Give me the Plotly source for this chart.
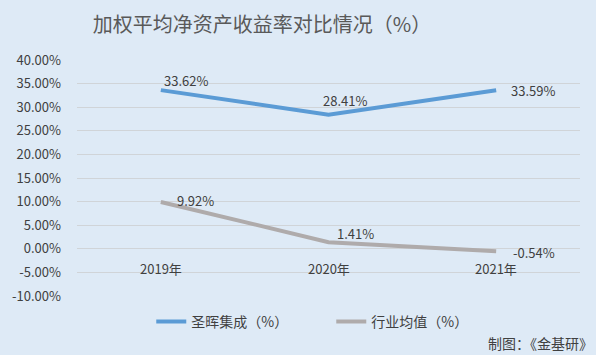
import plotly.graph_objects as go

years = ["2019年", "2020年", "2021年"]
company = [33.62, 28.41, 33.59]
industry = [9.92, 1.41, -0.54]
company_name = "圣晖集成（%）"
industry_name = "行业均值（%）"
tick_vals = [-10, -5, 0, 5, 10, 15, 20, 25, 30, 35, 40]
tick_text = [f"{v:.2f}%" for v in tick_vals]

FONT = "Noto Sans CJK SC"
BG = "#DEEAF6"
BLUE = "#5B9BD5"
GRAY = "#AFABAB"
TXT = "#404040"

fig = go.Figure()
fig.add_trace(go.Scatter(x=years, y=company, mode="lines", name=company_name,
                         line=dict(color=BLUE, width=4)))
fig.add_trace(go.Scatter(x=years, y=industry, mode="lines", name=industry_name,
                         line=dict(color=GRAY, width=4)))

anns = []
# data label offsets (px)
c_off = [(25, 10), (16, 14), (37, 0)]
i_off = [(35, 1), (27, 9), (38, -1)]
for i, y in enumerate(years):
    anns.append(dict(x=y, y=company[i], xref="x", yref="y", text=f"{company[i]:.2f}%",
                     showarrow=False, xshift=c_off[i][0], yshift=c_off[i][1],
                     font=dict(size=13, color=TXT, family=FONT)))
    anns.append(dict(x=y, y=industry[i], xref="x", yref="y", text=f"{industry[i]:.2f}%",
                     showarrow=False, xshift=i_off[i][0], yshift=i_off[i][1],
                     font=dict(size=13, color=TXT, family=FONT)))
    # category labels along the zero line
    anns.append(dict(x=y, y=0, xref="x", yref="y", text=y, showarrow=False,
                     yanchor="top", yshift=-8,
                     font=dict(size=13, color=TXT, family=FONT)))

anns.append(dict(x=1, y=0, xref="paper", yref="paper", text="制图：《金基研》",
                 showarrow=False, xanchor="right", yanchor="middle",
                 xshift=15, yshift=-47,
                 font=dict(size=14, color=TXT, family=FONT)))

fig.update_layout(
    width=596, height=355,
    paper_bgcolor=BG, plot_bgcolor=BG,
    margin=dict(l=72, r=16, t=60, b=59),
    title=dict(text="加权平均净资产收益率对比情况（%）", x=262 / 596, xanchor="center",
               y=1 - 25 / 355, yanchor="middle",
               font=dict(size=20, color="#595959", family=FONT)),
    font=dict(family=FONT, color=TXT, size=13),
    xaxis=dict(range=[-0.5, 2.5], showticklabels=False, showgrid=False,
               zeroline=False, showline=False, fixedrange=True),
    yaxis=dict(range=[-10, 40], tickvals=tick_vals, ticktext=tick_text,
               showgrid=True, gridcolor="#D0D4D8", gridwidth=1,
               zeroline=False, showline=False,
               tickfont=dict(size=13, color=TXT, family=FONT),
               ticklabelstandoff=15),
    legend=dict(orientation="h", x=(147 - 72) / 508, xanchor="left",
                y=-26 / 236, yanchor="middle",
                bgcolor="rgba(0,0,0,0)", font=dict(size=14, color=TXT, family=FONT),
                itemwidth=30, entrywidth=135, tracegroupgap=0),
    annotations=anns,
    showlegend=True,
)

fig.write_html("out.html", config={"displayModeBar": False})
with open("out.html", encoding="utf-8") as f:
    html = f.read()
html = html.replace("<head>", "<head><style>html,body{margin:0;padding:0;overflow:hidden;}</style>", 1)
with open("out.html", "w", encoding="utf-8") as f:
    f.write(html)
